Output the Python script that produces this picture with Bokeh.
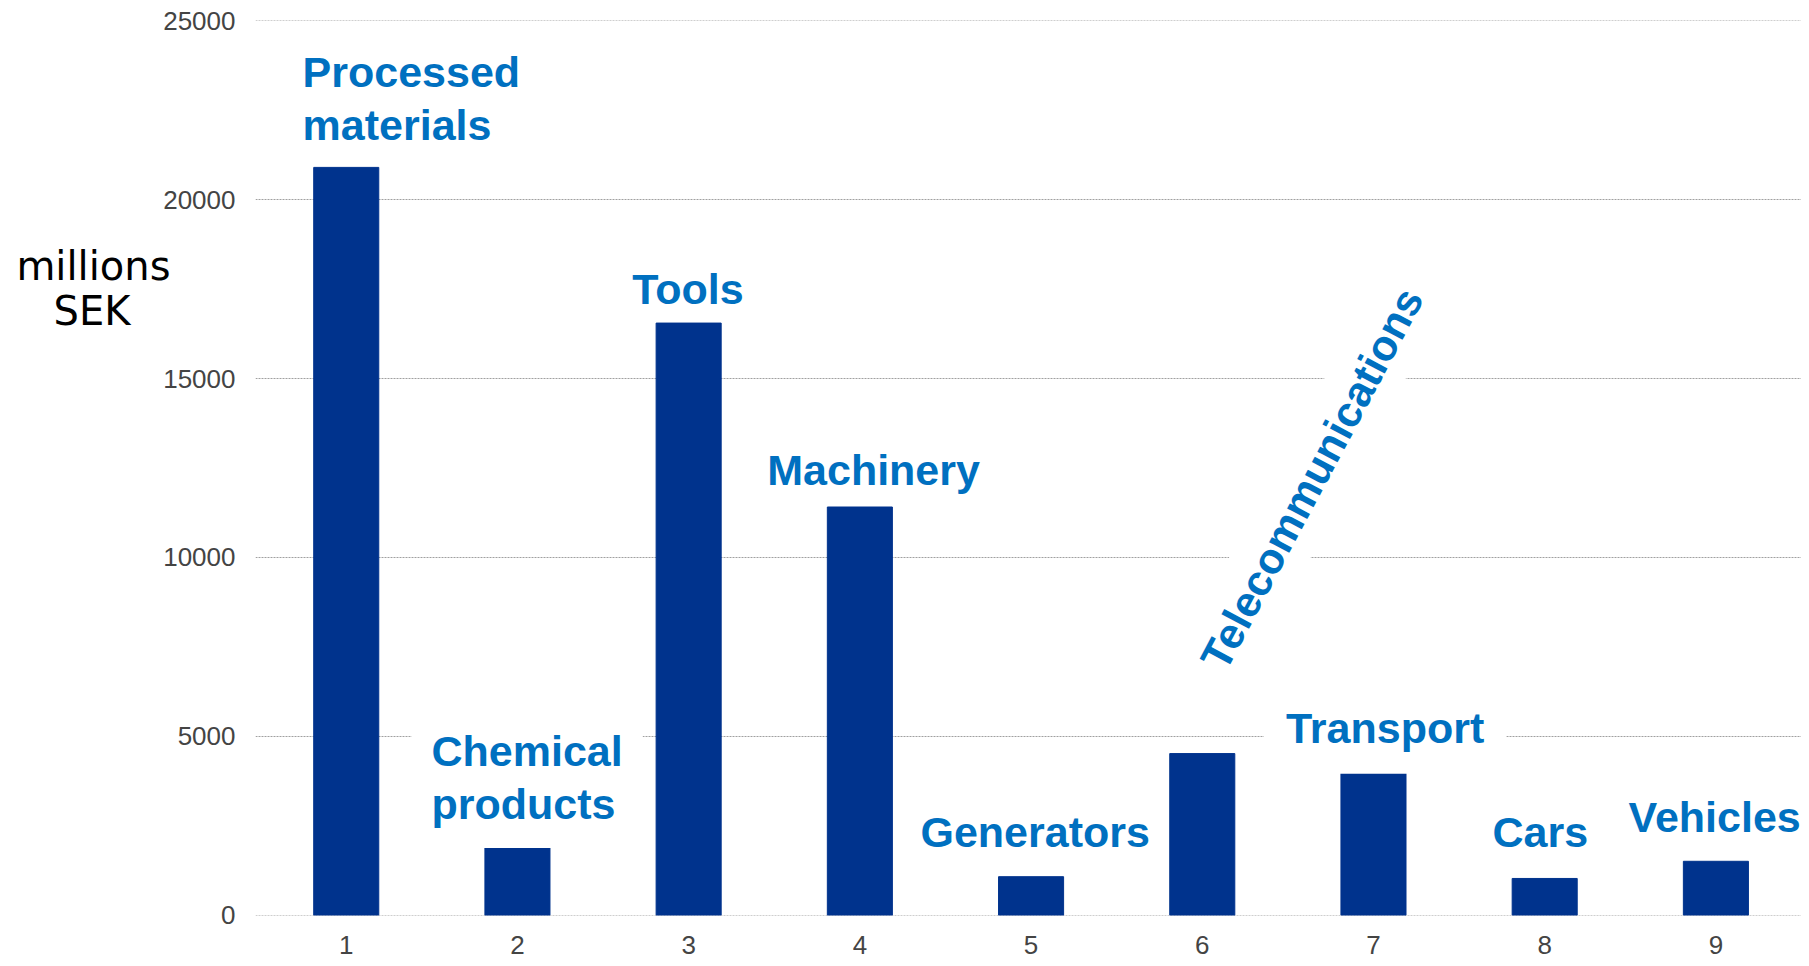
from bokeh.plotting import figure
from bokeh.models import Label, ColumnDataSource, FixedTicker, Range1d
from bokeh.embed import file_html
from bokeh.resources import INLINE

# ---- data ----
categories = [1, 2, 3, 4, 5, 6, 7, 8, 9]
values = [20900, 2040, 16550, 11410, 1080, 4520, 4050, 1030, 1510]
x_tick_labels = ["1", "2", "3", "4", "5", "6", "7", "8", "9"]
y_ticks = [0, 5000, 10000, 15000, 20000, 25000]
y_axis_title = ["millions", "SEK"]
label_texts = ["Processed\nmaterials", "Chemical\nproducts", "Tools", "Machinery",
               "Generators", "Telecommunications", "Transport", "Cars", "Vehicles"]

# ---- label placement (annotation positions, data units) ----
label_x = [0.745, 1.381, 2.670, 3.459, 4.354, 6.640, 6.360, 7.695, 8.490]
label_y = [22819, 3850, 17492, 12446, 2318, 12205, 5240, 2318, 2737]
label_angle = [0, 0, 0, 0, 0, 62, 0, 0, 0]
label_align = ["left", "left", "left", "left", "left", "center", "left", "left", "left"]
label_pad = [0, 20, 0, 0, 0, 12, 22, 0, 0]

BAR = "#00338D"
TXT = "#0070C0"
FONT = "Liberation Sans"

p = figure(width=1801, height=966,
           x_range=Range1d(0.47, 9.5), y_range=Range1d(-5, 25005),
           output_backend="svg", toolbar_location=None,
           min_border_left=255, min_border_right=0,
           min_border_top=20, min_border_bottom=51)
p.outline_line_color = None
p.background_fill_color = "white"
p.border_fill_color = "white"

src = ColumnDataSource(dict(x=categories, top=values))
p.vbar(x="x", top="top", width=0.38, source=src, fill_color=BAR, line_color=BAR)

p.xgrid.visible = False
p.ygrid.ticker = FixedTicker(ticks=y_ticks)
p.ygrid.grid_line_color = "#a0a0a0"
p.ygrid.grid_line_dash = "2 1"
p.ygrid.grid_line_width = 1

for ax in (p.xaxis[0], p.yaxis[0]):
    ax.axis_line_color = None
    ax.major_tick_line_color = None
    ax.minor_tick_line_color = None
    ax.major_tick_out = 0
    ax.major_tick_in = 0
    ax.major_label_text_font = FONT
    ax.major_label_text_font_size = "26px"
    ax.major_label_text_color = "#444444"

yax = p.yaxis[0]
yax.ticker = FixedTicker(ticks=y_ticks)
yax.major_label_standoff = 20
# horizontal unit title on the left; lines are right-aligned by Bokeh, so the
# short line gets two en spaces to sit centred, and blank lines raise the block
title_lines = [y_axis_title[0], y_axis_title[1] + "\u2002\u2002"]
yax.axis_label = "\n".join(title_lines + ["\u00a0"] * 8)
yax.axis_label_orientation = "horizontal"
yax.axis_label_standoff_mode = "axis"
yax.axis_label_standoff = 85
yax.axis_label_text_font = "DejaVu Sans"
yax.axis_label_text_font_style = "normal"
yax.axis_label_text_font_size = "40px"
yax.axis_label_text_color = "black"
yax.axis_label_text_align = "center"
yax.axis_label_text_line_height = 0.974

xax = p.xaxis[0]
xax.ticker = FixedTicker(ticks=categories)
xax.major_label_overrides = {c: t for c, t in zip(categories, x_tick_labels)}
xax.major_label_standoff = 20

# category labels
for t, lx, ly, ang, al, pad in zip(label_texts, label_x, label_y, label_angle, label_align, label_pad):
    kw = {}
    if pad:
        kw = dict(background_fill_color="white", padding=pad)
    p.add_layout(Label(x=lx, y=ly, text=t, angle=ang, angle_units="deg",
                       text_align=al, text_baseline="middle",
                       text_font=FONT, text_font_style="bold", text_font_size="43px",
                       text_color=TXT, text_line_height=1.1, **kw))

open("out.html", "w").write(file_html(p, INLINE))
